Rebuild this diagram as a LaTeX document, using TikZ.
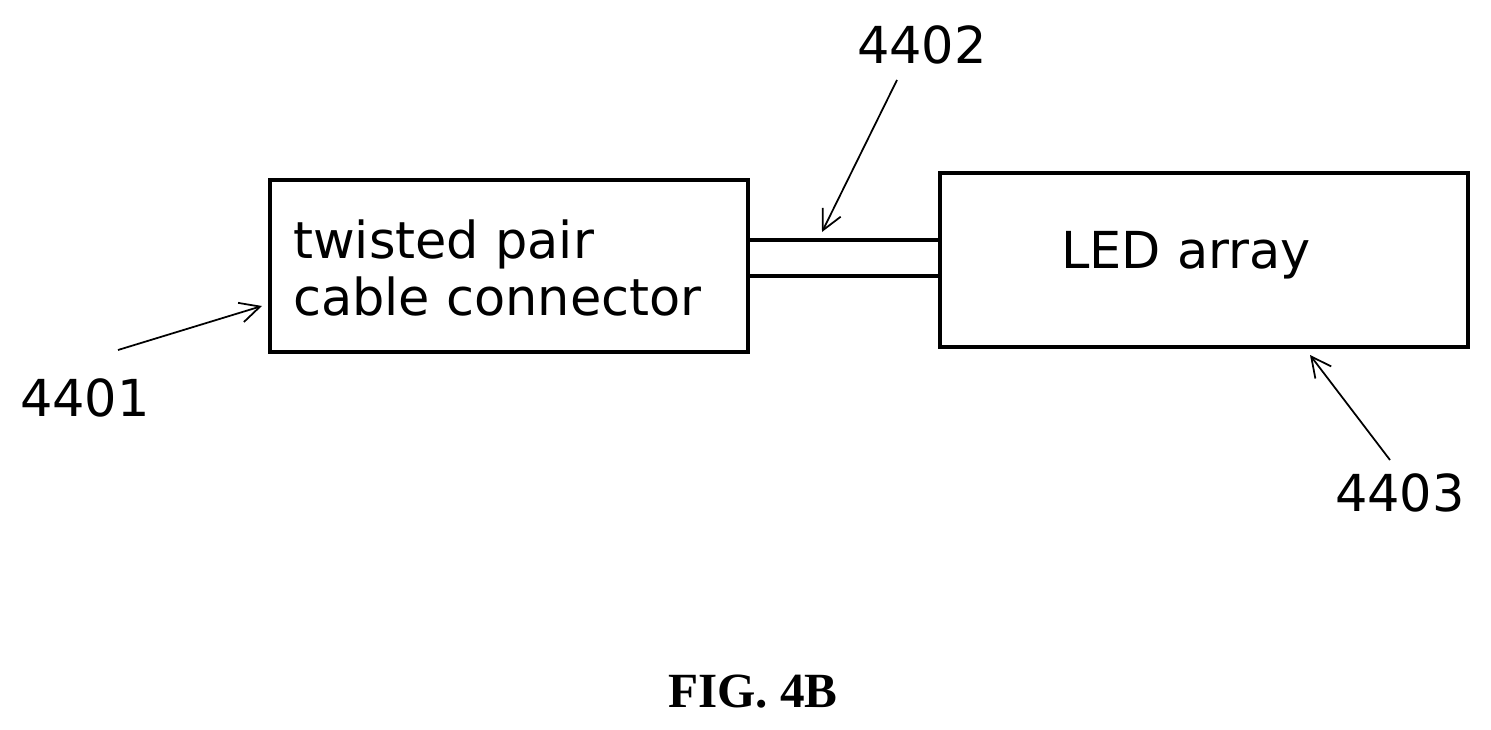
\documentclass[tikz,border=0pt]{standalone}
\usepackage{fontspec}
\setmainfont{DejaVu Sans}
\newfontfamily\figfont{Liberation Serif}
\usetikzlibrary{positioning,arrows.meta}
\begin{document}
\begin{tikzpicture}
    [
    x=0.02cm, y=-0.02cm,
    box/.style={draw, line width=2.2pt, inner sep=0pt},
    lbl/.style={font=\fontsize{29}{32}\selectfont},
    >={Straight Barb[length=4mm,width=4mm]}
    ]
    \useasboundingbox (0,0) rectangle (1491,730);

    % Blocs
    \node [box, minimum width=478*0.02cm, minimum height=172*0.02cm] (conn) at (509,266) {};
    \node [lbl, align=left, anchor=west] (conntxt) at (287,268) {twisted pair\\[1pt]cable connector};
    \node [box, minimum width=528*0.02cm, minimum height=174*0.02cm] (led) at (1204,260) {};
    \node [lbl] (ledtxt) at (1186,255) {LED array};
    % Cable
    \coordinate (ca) at (conn.east |- 0,240);
    \coordinate (cb) at (conn.east |- 0,276);
    \draw [line width=2.2pt] (ca) -- (ca -| led.west);
    \draw [line width=2.2pt] (cb) -- (cb -| led.west);
    % Reperes
    \node [lbl] (r1) at (85,398) {4401};
    \node [lbl] (r2) at (922,45) {4402};
    \node [lbl] (r3) at (1400,493) {4403};
    \coordinate (t1) at (262,306);
    \coordinate (t2) at (822,232);
    \coordinate (t3) at (1310,355);
    \draw [->, line width=1pt] (118,350) -- (t1);
    \draw [->, line width=1pt] (897,80) -- (t2);
    \draw [->, line width=1pt] (1390,460) -- (t3);
    % Titre
    \node [font=\figfont\bfseries\fontsize{28}{32}\selectfont] (fig) at (753,692) {FIG. 4B};
\end{tikzpicture}
\end{document}
